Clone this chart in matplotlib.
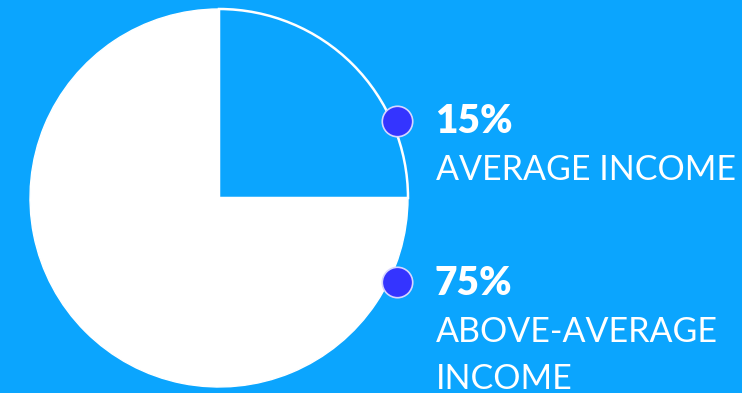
import matplotlib.pyplot as plt

# income split
slice_names = ["Average income", "Above-average income"]
slice_values = [25, 75]
pct_labels = ["15%", "75%"]
label_lines = [["AVERAGE INCOME"], ["ABOVE-AVERAGE", "INCOME"]]

# marker positions on the rim (pixels, y up)
dot_x = [397, 397]
dot_y = [272, 111]

bg = "#0ba5fe"
dot_color = "#3434ff"

fig = plt.figure(figsize=(7.42, 3.93), dpi=100, facecolor=bg)
ax = fig.add_axes([0, 0, 1, 1])
ax.set_facecolor(bg)

wedges, _ = ax.pie(slice_values, colors=[bg, "white"], startangle=0,
                   counterclock=True, center=(219, 195), radius=189,
                   frame=True)
wedges[0].set_edgecolor("white")
wedges[0].set_linewidth(1.8)
wedges[1].set_edgecolor("white")
ax.set_xlim(0, 742)
ax.set_ylim(0, 393)
ax.set_aspect("equal")
ax.axis("off")

ax.scatter(dot_x, dot_y, s=480, color=dot_color, edgecolor="#d6d6ff",
           linewidth=1.2, zorder=5)

font = "Lato"
for i, (pct, lines) in enumerate(zip(pct_labels, label_lines)):
    base = 260 - i * 162
    ax.text(435, base, pct, fontsize=28, fontweight="heavy", color="white",
            family=font, va="baseline", ha="left")
    for j, line in enumerate(lines):
        ax.text(436, base - 47 - j * 47, line, fontsize=24.5, color="white",
                family=font, va="baseline", ha="left")

fig.savefig("out.png", dpi=100, facecolor=bg)
